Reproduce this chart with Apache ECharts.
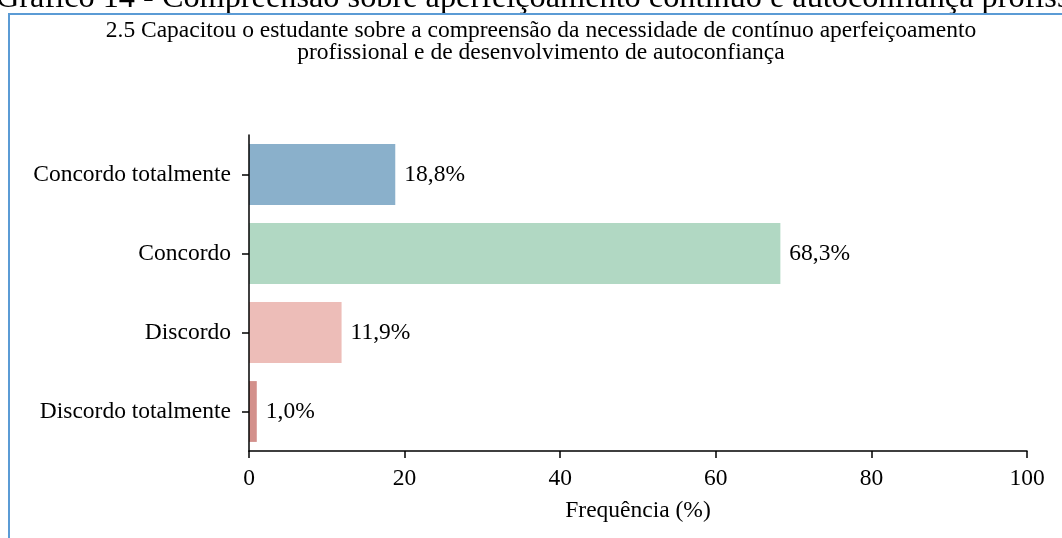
<!DOCTYPE html>
<html>
<head>
<meta charset="utf-8">
<script src="https://cdn.jsdelivr.net/npm/echarts@6/dist/echarts.min.js"></script>
<style>
html,body{margin:0;padding:0;background:#fff;}
#c{width:1062px;height:538px;}
</style>
</head>
<body>
<div id="c"></div>
<script>
const categories = ['Concordo totalmente', 'Concordo', 'Discordo', 'Discordo totalmente'];
const values = [18.8, 68.3, 11.9, 1.0];
const xTicks = [0, 20, 40, 60, 80, 100];
const chartTitle = ['2.5 Capacitou o estudante sobre a compreensão da necessidade de contínuo aperfeiçoamento', 'profissional e de desenvolvimento de autoconfiança'];
const pageHeading = 'Gráfico 14 - Compreensão sobre aperfeiçoamento contínuo e autoconfiança profissional';
const axisName = 'Frequência (%)';
const barColors = ['#8AB0CB', '#B1D8C3', '#EDBDB8', '#D3908B'];

const FONT = '"Liberation Serif", "DejaVu Serif", serif';
const FS = 23.5;
const chart = echarts.init(document.getElementById('c'), null, {renderer: 'canvas'});
chart.setOption({
  backgroundColor: '#ffffff',
  animation: false,
  graphic: [
    {type: 'text', x: -4, y: 15, style: {text: pageHeading, font: '32.3px ' + FONT, fill: '#000', verticalAlign: 'bottom', lineHeight: 33}},
    {type: 'rect', shape: {x: 0, y: 14, width: 1062, height: 524}, style: {fill: '#fff'}},
    {type: 'line', shape: {x1: 8, y1: 14, x2: 1062, y2: 14}, style: {stroke: '#5B9BD5', lineWidth: 2}},
    {type: 'line', shape: {x1: 9, y1: 14, x2: 9, y2: 538}, style: {stroke: '#5B9BD5', lineWidth: 2}},
    {type: 'text', x: 541, y: 42, style: {text: chartTitle.join('\n'), font: FS + 'px ' + FONT, fill: '#000', align: 'center', verticalAlign: 'middle', lineHeight: 22}}
  ],
  grid: {left: 249, right: 35, top: 135, bottom: 87, containLabel: false},
  xAxis: {
    type: 'value', min: 0, max: 100, interval: 20, z: 5,
    name: axisName, nameLocation: 'middle', nameGap: 48,
    nameTextStyle: {fontFamily: FONT, fontSize: FS, color: '#000'},
    axisLine: {show: true, lineStyle: {color: '#000', width: 1.5}},
    axisTick: {show: true, length: 7, lineStyle: {color: '#000', width: 1.5}},
    axisLabel: {fontFamily: FONT, fontSize: FS, color: '#000', margin: 16,
      formatter: v => xTicks.includes(v) ? String(v) : ''},
    splitLine: {show: false}
  },
  yAxis: {
    type: 'category', data: categories, inverse: true, z: 5,
    axisLine: {show: true, lineStyle: {color: '#000', width: 1.5}},
    axisTick: {show: true, length: 7, alignWithLabel: true, lineStyle: {color: '#000', width: 1.5}},
    axisLabel: {fontFamily: FONT, fontSize: FS, color: '#000', margin: 18}
  },
  series: [{
    type: 'bar',
    data: values.map((v, i) => ({value: v, itemStyle: {color: barColors[i]}})),
    barWidth: '77%',
    label: {show: true, position: 'right', distance: 9, fontFamily: FONT, fontSize: FS, color: '#000',
      formatter: p => p.value.toFixed(1).replace('.', ',') + '%'}
  }]
});
</script>
</body>
</html>
